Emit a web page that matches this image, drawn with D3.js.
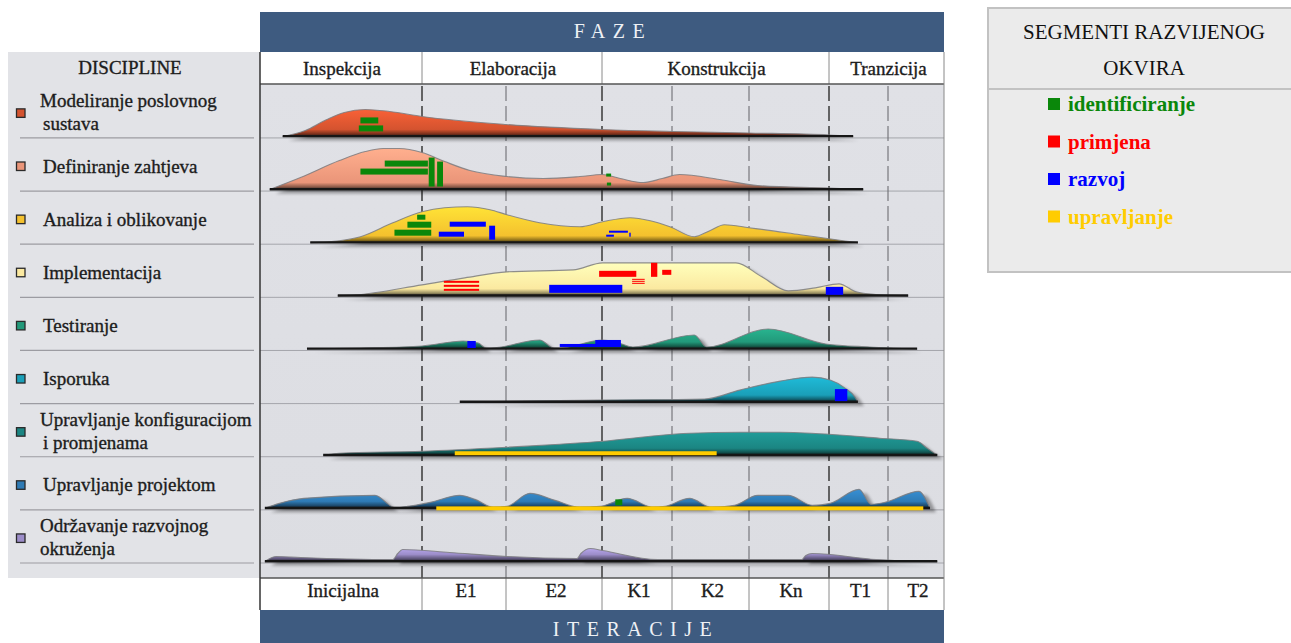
<!DOCTYPE html>
<html><head><meta charset="utf-8">
<script src="https://cdn.jsdelivr.net/npm/d3@7"></script>
<style>body{margin:0;background:#fff;}svg{display:block;font-family:"Liberation Serif","Times New Roman",serif;}
.t{stroke-width:0.35px;}</style>
</head><body><svg id="c" width="1291" height="643"></svg>
<script>
// ---------------- DATA ----------------
const phases = ["Inspekcija","Elaboracija","Konstrukcija","Tranzicija"];
const phaseStart = [0,1,3,6];           // iteration index where each phase starts
const phaseEnd   = [1,3,6,8];
const iterations = ["Inicijalna","E1","E2","K1","K2","Kn","T1","T2"];
const disciplines = [["Modeliranje poslovnog","sustava"],["Definiranje zahtjeva"],["Analiza i oblikovanje"],
  ["Implementacija"],["Testiranje"],["Isporuka"],["Upravljanje konfiguracijom","i promjenama"],
  ["Upravljanje projektom"],["Održavanje razvojnog","okruženja"]];
const discColors = ["#d4532f","#ea9579","#f4c12e","#fbe9a0","#22997a","#1a9fb8","#1b8582","#2f7bb5","#9c8dc9"];
const legendLabels = ["identificiranje","primjena","razvoj","upravljanje"];
const legendColors = ["#0a870a","#ff0000","#0000ff","#ffcc00"];

// effort profiles: [iteration position, effort]
const profModeliranje = [[0.14,0],[0.28,6],[0.40,16],[0.52,24],[0.65,27],[0.80,25],[1,20],[2,12],[3,7],[4,5],[5,3.5],[6,1.5],[6.41,0]];
const profZahtjevi = [[0.06,0],[0.25,12],[0.49,29],[0.65,38],[0.76,41],[0.86,41],[1,37],[1.27,28],[1.57,19],[2.01,13],[2.39,11],[2.77,13],[3,15],[3.26,11],[3.59,7],[3.86,11],[4.10,15],[4.62,10],[5.11,4],[6,1.5],[6.58,0]];
const profAnaliza = [[0.31,0],[0.49,2],[0.62,6],[0.82,20],[1,31],[1.27,35],[1.54,36],[1.81,33],[2.01,28],[2.35,20],[2.77,16],[3.01,21],[3.40,25],[3.69,22],[3.97,16],[4.29,6],[4.49,12],[4.68,18],[5,15],[5.64,8],[6.24,2],[6.49,0]];
const profImplementacija = [[0.48,0],[0.60,1],[1,11],[1.51,18],[2.01,24],[2.70,26],[3.01,33],[4.83,33],[5.16,19],[5.49,5],[5.83,8],[6.17,12],[6.46,4],[6.86,1],[7.36,0]];
const profTestiranje = [[0.29,0],[0.62,1],[1,3],[1.49,8],[1.67,6],[1.76,1],[1.82,1],[2.35,9],[2.50,1],[2.56,1],[3.01,9],[3.24,6],[3.44,2],[4.29,14],[4.45,2],[5.24,20],[5.96,5],[6.69,2],[7.52,0]];
const profIsporuka = [[1.45,0],[2.15,1],[2.98,2],[4.42,3],[4.88,12],[5.39,21],[5.79,25],[6.02,22],[6.27,14],[6.44,5],[6.49,0]];
const profKonfiguracija = [[0.39,0],[0.49,2],[1,4],[2.01,8],[2.56,11],[3.01,14],[3.69,19],[4.23,22],[4.88,23],[5.39,23],[6,21],[6.86,17],[7.52,14],[7.70,7],[7.88,0]];
const profProjekt = [[0.03,0],[0.12,5],[0.27,10],[0.71,13],[0.83,1],[0.91,2],[1.10,6],[1.45,13],[1.63,9],[1.85,1],[2.01,2],[2.25,15],[2.51,8],[2.77,1],[2.98,2],[3.36,10],[3.73,1],[3.90,2],[4.23,10],[4.51,1],[4.81,3],[5.11,13],[5.49,13],[5.79,3],[6.02,5],[6.51,19],[6.71,4],[6.95,6],[7.55,17],[7.75,0]];
const profOkruzenje = [[0.03,0],[0.10,5],[0.25,4],[0.82,2],[0.85,8],[0.88,12],[1.33,9],[2.01,5],[2.74,3],[2.78,8],[2.88,13],[3.01,11],[3.79,2],[5.66,2],[5.71,6],[5.79,8],[6.80,2],[7.88,0]];
const profiles = [profModeliranje,profZahtjevi,profAnaliza,profImplementacija,profTestiranje,profIsporuka,profKonfiguracija,profProjekt,profOkruzenje];

// segments: [discipline, from, to, low, high, striped]
const segIdentificiranje = [[0,0.62,0.73,13,19],[0,0.61,0.76,5,11],[1,0.77,1.07,23,29],[1,0.62,1.07,15,21],[1,1.08,1.15,3,32],[1,1.18,1.25,3,28],[1,3.06,3.13,13,16],[1,3.07,3.13,4,7],
  [2,0.97,1.04,23,28],[2,0.91,1.11,15,21],[2,0.83,1.11,7,13],[7,3.19,3.29,3,9]];
const segPrimjena = [[3,1.26,1.68,5,15,1],[3,2.97,3.49,19,25],[3,3.43,3.61,12,17,1],[3,3.70,3.79,19,33],[3,3.86,3.99,21,26]];
const segRazvoj = [[2,1.33,1.76,16,21],[2,1.20,1.50,6,11],[2,1.80,1.87,3,17],[2,3.10,3.37,10,12],[2,3.06,3.17,6,8],[2,3.39,3.41,6,10],
  [3,2.45,3.29,3,11],[3,5.96,6.24,1,9],[4,1.54,1.64,1,8],[4,2.56,2.94,2,5],[4,2.93,3.27,2,9],[5,6.10,6.31,1,13]];
const segUpravljanje = [[6,1.39,4.58,0,4],[7,1.17,7.63,-2,2]];

// ---------------- LAYOUT ----------------
const svg = d3.select("#c");
const L = 260, R = 944;
const x = d3.scaleLinear().domain(d3.range(9)).range([260,422,506,602,672,749,829,888,944]);
const row = d3.scaleBand().domain(d3.range(9)).range([84.8,563]);
const base = i => row(i) + row.bandwidth() - 1.5;
const hY = d3.scaleLinear().domain([0,1]).range([0,1]);
const defs = svg.append("defs");
defs.append("filter").attr("id","blur").attr("x","-5%").attr("y","-100%").attr("width","110%").attr("height","300%")
  .append("feGaussianBlur").attr("stdDeviation",1.6);
const bgG = defs.append("linearGradient").attr("id","bg").attr("x1",0).attr("x2",0).attr("y1",0).attr("y2",1);
bgG.append("stop").attr("offset",0).attr("stop-color","#e0e1e6");
bgG.append("stop").attr("offset",1).attr("stop-color","#dcdde2");
const ink = "#1c1c1c";
const txt = (sel)=>sel.attr("class","t").attr("fill",ink).attr("stroke",ink);

// left discipline panel
svg.append("rect").attr("x",8).attr("y",52).attr("width",L-8).attr("height",526).attr("fill","#e2e3e7");
txt(svg.append("text").attr("x",130).attr("y",74).attr("text-anchor","middle").attr("font-size",19)).attr("stroke-width",0.6).text("DISCIPLINE");

// chart body
svg.append("rect").attr("x",L).attr("y",84).attr("width",R-L).attr("height",494).attr("fill","url(#bg)");
d3.range(9).forEach(i=>{
  const yy = row(i)+row.bandwidth();
  svg.append("line").attr("x1",20).attr("x2",254).attr("y1",yy).attr("y2",yy).attr("stroke","#9c9ca2").attr("stroke-width",1.2);
  svg.append("line").attr("x1",L).attr("x2",R).attr("y1",yy).attr("y2",yy).attr("stroke","#a4a5ab").attr("stroke-width",1);
});
d3.range(1,8).forEach(k=>{
  const isPhase = phaseStart.includes(k);
  svg.append("line").attr("x1",x(k)).attr("x2",x(k)).attr("y1",86).attr("y2",578)
    .attr("stroke",isPhase?"#3a3a3a":"#6e6e74").attr("stroke-width",isPhase?1.5:1.1).attr("stroke-dasharray","15,5");
});

// humps
const area = d3.area().x(d=>x(d[0])).curve(d3.curveMonotoneX);
const line = d3.line().x(d=>x(d[0])).curve(d3.curveMonotoneX);
profiles.forEach((p,i)=>{
  const b = base(i), maxH = d3.max(p,d=>d[1]);
  const c = d3.color(discColors[i]);
  const g = defs.append("linearGradient").attr("id","g"+i).attr("gradientUnits","userSpaceOnUse")
    .attr("x1",0).attr("x2",0).attr("y1",b-maxH).attr("y2",b+1);
  g.append("stop").attr("offset",0).attr("stop-color",c.brighter(0.45));
  g.append("stop").attr("offset",Math.max(0.3,(maxH-7)/(maxH+1))).attr("stop-color",c);
  g.append("stop").attr("offset",Math.max(0.5,(maxH-3)/(maxH+1))).attr("stop-color",c.darker(1.3));
  g.append("stop").attr("offset",1).attr("stop-color","#121212");
  area.y0(b).y1(d=>b-hY(d[1]));
  line.y(d=>b-hY(d[1]));
  svg.append("path").attr("d",area(p)).attr("transform","translate(6,4)").attr("fill","#000").attr("opacity",0.33).attr("filter","url(#blur)");
  svg.append("path").attr("d",area(p)).attr("fill","url(#g"+i+")");
  svg.append("path").attr("d",line(p)).attr("fill","none").attr("stroke","#7d7d80").attr("stroke-width",1.1).attr("opacity",0.85);
  svg.append("line").attr("x1",x(p[0][0])).attr("x2",x(p[p.length-1][0])).attr("y1",b-0.3).attr("y2",b-0.3).attr("stroke","#161616").attr("stroke-width",2.4);
});

// segments
function drawSeg(list,color){
  list.forEach(s=>{
    const b = base(s[0]);
    const x0 = x(s[1]), x1 = x(s[2]);
    if(s[5]){
      const t = (s[4]-s[3])/5;
      [0,2,4].forEach(k=>{
        svg.append("rect").attr("x",x0).attr("width",x1-x0).attr("y",b-hY(s[3]+(k+1)*t)).attr("height",hY(t)).attr("fill",color);
      });
    } else {
      svg.append("rect").attr("x",x0).attr("width",x1-x0).attr("y",b-hY(s[4])).attr("height",hY(s[4]-s[3])).attr("fill",color);
    }
  });
}
drawSeg(segUpravljanje,legendColors[3]);
drawSeg(segRazvoj,legendColors[2]);
drawSeg(segPrimjena,legendColors[1]);
drawSeg(segIdentificiranje,legendColors[0]);

// discipline labels + markers
disciplines.forEach((lab,i)=>{
  const cy = row(i)+row.bandwidth()/2;
  svg.append("rect").attr("x",16.5).attr("y",cy-2.5).attr("width",8.5).attr("height",8.5)
    .attr("fill",discColors[i]).attr("stroke","#2a2a2a").attr("stroke-width",1.3);
  if(lab.length===1){
    txt(svg.append("text").attr("x",43).attr("y",cy+8).attr("font-size",19)).text(lab[0]);
  } else {
    txt(svg.append("text").attr("x",40).attr("y",cy-4).attr("font-size",19)).text(lab[0]);
    txt(svg.append("text").attr("x",i===8?40:43).attr("y",cy+19).attr("font-size",19)).text(lab[1]);
  }
});

// top header
svg.append("rect").attr("x",L).attr("y",12).attr("width",R-L).attr("height",40).attr("fill","#3e5b80");
svg.append("text").attr("x",613).attr("y",38).attr("text-anchor","middle").attr("font-size",20).attr("letter-spacing",7.5)
  .attr("fill","#eef1f5").text("FAZE");
svg.append("rect").attr("x",L).attr("y",52).attr("width",R-L).attr("height",32).attr("fill","#fff");
phases.forEach((p,k)=>{
  const a = x(phaseStart[k]), e = x(phaseEnd[k]);
  txt(svg.append("text").attr("x",(a+e)/2+(k===3?2:1)).attr("y",75).attr("text-anchor","middle").attr("font-size",19)).text(p);
  if(k>0) svg.append("line").attr("x1",a).attr("x2",a).attr("y1",52).attr("y2",84).attr("stroke","#8a8a8a").attr("stroke-width",1);
});
svg.append("line").attr("x1",L).attr("x2",R).attr("y1",84).attr("y2",84).attr("stroke","#555").attr("stroke-width",1.5);

// bottom header
svg.append("rect").attr("x",L).attr("y",578).attr("width",R-L).attr("height",32).attr("fill","#fff");
iterations.forEach((it,k)=>{
  txt(svg.append("text").attr("x",(x(k)+x(k+1))/2+2).attr("y",597).attr("text-anchor","middle").attr("font-size",19)).text(it);
  if(k>0) svg.append("line").attr("x1",x(k)).attr("x2",x(k)).attr("y1",578).attr("y2",610).attr("stroke","#8a8a8a").attr("stroke-width",1);
});
svg.append("line").attr("x1",L).attr("x2",R).attr("y1",578).attr("y2",578).attr("stroke","#555").attr("stroke-width",1.5);
svg.append("rect").attr("x",L).attr("y",610).attr("width",R-L).attr("height",33).attr("fill","#3e5b80");
svg.append("text").attr("x",636).attr("y",636).attr("text-anchor","middle").attr("font-size",20).attr("letter-spacing",7.5)
  .attr("fill","#eef1f5").text("ITERACIJE");
svg.append("line").attr("x1",L).attr("x2",L).attr("y1",52).attr("y2",610).attr("stroke","#333").attr("stroke-width",1.5);
svg.append("line").attr("x1",R).attr("x2",R).attr("y1",52).attr("y2",610).attr("stroke","#888").attr("stroke-width",1);

// legend
svg.append("rect").attr("x",988).attr("y",8).attr("width",320).attr("height",264).attr("fill","#ebebeb").attr("stroke","#c2c2c2").attr("stroke-width",2);
svg.append("text").attr("x",1144).attr("y",39).attr("text-anchor","middle").attr("font-size",21).attr("fill","#111").text("SEGMENTI RAZVIJENOG");
svg.append("text").attr("x",1144).attr("y",75).attr("text-anchor","middle").attr("font-size",21).attr("fill","#111").text("OKVIRA");
svg.append("line").attr("x1",989).attr("x2",1291).attr("y1",89).attr("y2",89).attr("stroke","#c2c2c2").attr("stroke-width",2);
legendLabels.forEach((l,k)=>{
  const cy = 104 + k*37.5;
  svg.append("rect").attr("x",1048).attr("y",cy-6).attr("width",12).attr("height",12).attr("fill",legendColors[k]);
  svg.append("text").attr("x",1068).attr("y",cy+7).attr("font-size",21).attr("font-weight","bold").attr("fill",legendColors[k]).text(l);
});
</script></body></html>
